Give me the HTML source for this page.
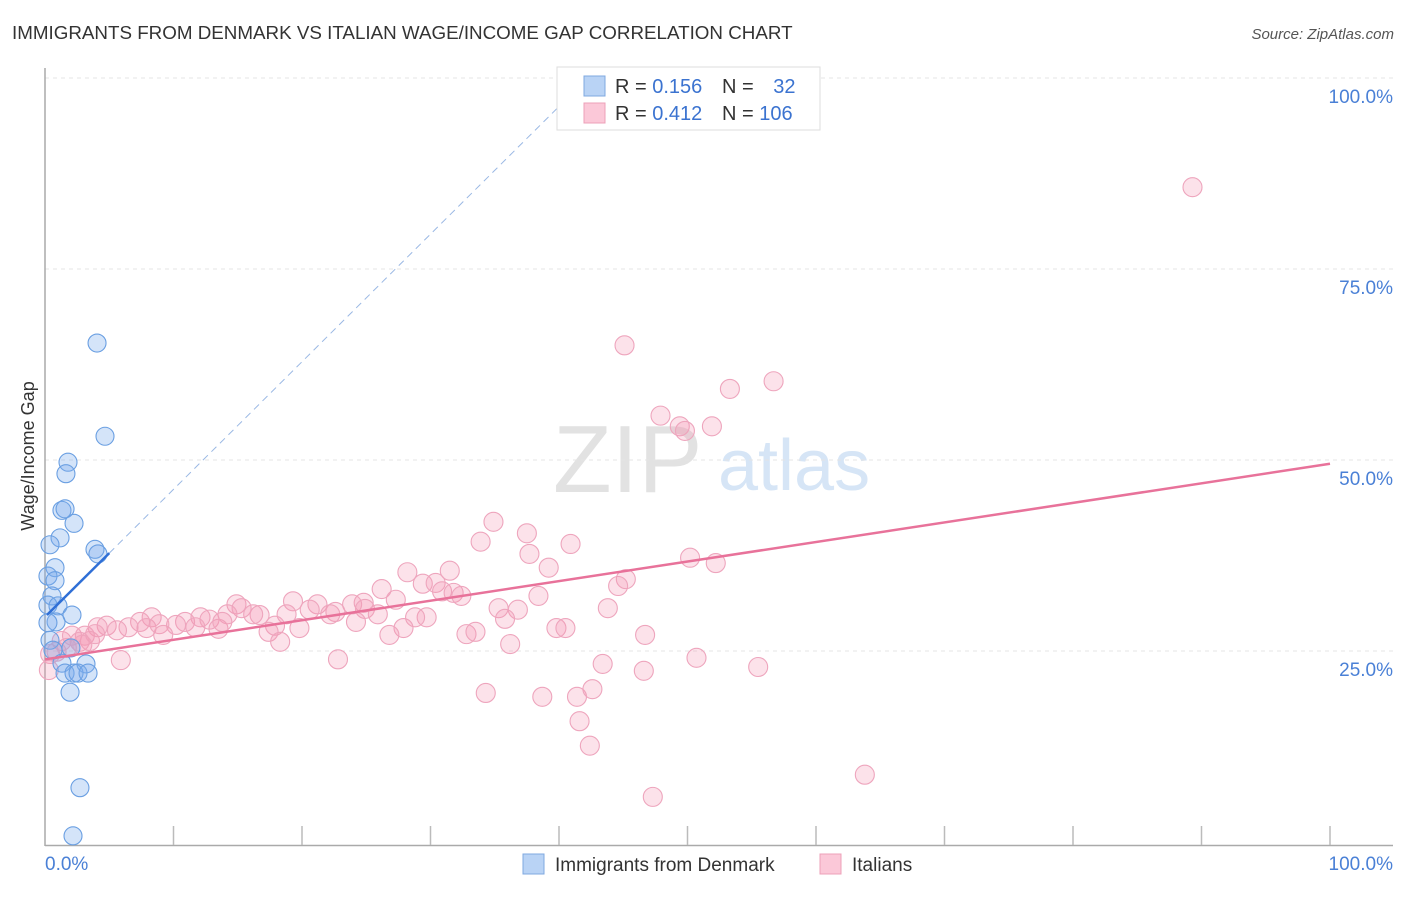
<!DOCTYPE html>
<html><head><meta charset="utf-8"><style>
body{margin:0;background:#fff;font-family:"Liberation Sans",sans-serif;}
svg text{font-family:"Liberation Sans",sans-serif;}
</style></head><body>
<svg id="chart" width="1406" height="892" xmlns="http://www.w3.org/2000/svg">
<text x="12" y="39" font-size="18.8" fill="#333">IMMIGRANTS FROM DENMARK VS ITALIAN WAGE/INCOME GAP CORRELATION CHART</text>
<text x="1394" y="39" font-size="15" fill="#555" text-anchor="end" font-style="italic">Source: ZipAtlas.com</text>
<g>
<text x="553" y="492" font-size="96" fill="#e2e2e2" font-family="Liberation Serif,serif">ZIP</text>
<text x="718" y="490" font-size="72" fill="#d6e5f6">atlas</text>
</g>
<g id="grid"></g>
<g id="axes"></g>
<g id="marks"></g>
<g>
<rect x="557" y="67" width="263" height="63" fill="#fff" stroke="#ddd"/>
<rect x="584" y="76" width="21" height="20" fill="#b9d3f5" stroke="#7fa8e0"/>
<rect x="584" y="103" width="21" height="20" fill="#fbc8d8" stroke="#eca0b8"/>
<text x="615" y="93" font-size="20" fill="#333">R = <tspan fill="#3b73d0">0.156</tspan></text>
<text x="722" y="93" font-size="20" fill="#333">N = <tspan fill="#3b73d0" dx="14">32</tspan></text>
<text x="615" y="120" font-size="20" fill="#333">R = <tspan fill="#3b73d0">0.412</tspan></text>
<text x="722" y="120" font-size="20" fill="#333">N = <tspan fill="#3b73d0">106</tspan></text>
</g>
<g>
<rect x="523" y="854" width="21" height="20" fill="#b9d3f5" stroke="#7fa8e0"/>
<text x="555" y="871" font-size="19" fill="#333">Immigrants from Denmark</text>
<rect x="820" y="854" width="21" height="20" fill="#fbc8d8" stroke="#eca0b8"/>
<text x="852" y="871" font-size="19" fill="#333">Italians</text>
</g>
<text transform="translate(34,456) rotate(-90)" font-size="18" fill="#333" text-anchor="middle">Wage/Income Gap</text>
</svg>
<script>
const yTicks=[25,50,75,100];
const yTickLabels=["25.0%","50.0%","75.0%","100.0%"];
const xTickLabels=["0.0%","100.0%"];
const denX=[4.05,4.67,1.79,1.63,1.32,1.56,2.26,1.17,0.39,3.89,4.12,0.78,0.23,0.78,0.54,0.23,1.01,2.1,0.86,0.39,2.02,0.62,1.32,3.19,1.56,2.26,2.57,3.35,1.95,2.72,2.18,0.23];
const denY=[65.7,53.5,50.1,48.6,43.8,44.0,42.1,40.2,39.3,38.7,38.1,36.3,35.2,34.6,32.6,31.4,31.3,30.1,29.2,26.8,25.8,25.5,23.8,23.7,22.5,22.5,22.5,22.5,20.0,7.5,1.2,29.1];
const itaX=[89.3,45.1,56.7,53.3,47.9,49.4,51.9,49.8,34.9,37.5,33.9,40.9,37.7,50.2,52.2,39.2,28.2,31.5,45.2,26.2,29.4,30.4,44.6,30.9,31.8,32.4,38.4,27.3,24.8,23.9,21.2,19.3,14.9,35.3,36.8,43.8,24.9,22.6,20.6,18.8,22.2,25.9,29.7,28.8,35.8,16.7,15.3,14.2,16.2,12.1,12.8,10.9,10.2,8.3,7.4,7.9,6.5,4.8,5.6,4.1,8.9,11.7,13.5,13.8,17.9,19.8,24.2,27.9,32.8,33.5,26.8,39.8,40.5,46.7,9.2,17.4,36.2,18.3,1.3,2.1,3.1,3.5,2.7,3.9,0.9,1.7,0.4,22.8,5.9,50.7,43.4,55.5,46.6,0.3,34.3,38.7,41.4,42.6,41.6,42.4,47.3,63.8,2.9];
const itaY=[86.1,65.4,60.7,59.7,56.2,54.8,54.8,54.2,42.3,40.8,39.7,39.4,38.1,37.6,36.9,36.3,35.7,35.9,34.8,33.5,34.2,34.3,33.9,33.2,33.0,32.6,32.6,32.1,31.7,31.5,31.5,31.9,31.5,31.0,30.8,31.0,30.9,30.5,30.8,30.2,30.2,30.2,29.8,29.8,29.6,30.1,31.0,30.2,30.2,29.8,29.5,29.2,28.8,29.8,29.2,28.4,28.5,28.7,28.1,28.5,28.9,28.5,28.3,29.2,28.7,28.4,29.2,28.4,27.6,27.9,27.5,28.4,28.4,27.5,27.5,27.9,26.3,26.6,26.7,27.4,27.4,26.7,26.6,27.6,25.3,25.8,25.0,24.3,24.2,24.5,23.7,23.3,22.8,22.9,19.9,19.4,19.4,20.4,16.2,13.0,6.3,9.2,26.2];
const denTrend=[[0.15,30.1],[5,38.2],[42,100]];
const itaTrend=[[0,24.3],[100,49.9]];
const NS="http://www.w3.org/2000/svg";
const X=v=>45+12.85*v, Y=v=>845-7.64*v;
function mk(p,tag,a){const e=document.createElementNS(NS,tag);for(const k in a)e.setAttribute(k,a[k]);p.appendChild(e);return e;}
const grid=document.getElementById('grid'),axes=document.getElementById('axes'),marks=document.getElementById('marks');
yTicks.forEach((t,i)=>{
 const l=mk(grid,'line',{x1:45,x2:1393,y1:Y(t)-3,y2:Y(t)-3,stroke:'#e4e4e4','stroke-width':1,'stroke-dasharray':'4,4'});
 
 
 const tx=mk(axes,'text',{x:1393,y:Y(t)+22,'font-size':19,fill:'#4a80d6','text-anchor':'end'});
 tx.textContent=yTickLabels[i];
 
 
});
let ax=mk(axes,'line',{x1:45,x2:45,y1:68,y2:846,stroke:'#aaa','stroke-width':1.5});


ax=mk(axes,'line',{x1:45,x2:1393,y1:845.5,y2:845.5,stroke:'#aaa','stroke-width':1.5});


for(let k=1;k<=10;k++){const t=mk(axes,'line',{x1:X(k*10),x2:X(k*10),y1:826,y2:845,stroke:'#bbb','stroke-width':1.5});
 
 }
let xl=mk(axes,'text',{x:45,y:870,'font-size':19,fill:'#4a80d6'});xl.textContent=xTickLabels[0];


xl=mk(axes,'text',{x:1393,y:870,'font-size':19,fill:'#4a80d6','text-anchor':'end'});xl.textContent=xTickLabels[1];


itaX.forEach((x,i)=>{const c=mk(marks,'circle',{cx:X(x),cy:Y(itaY[i]),r:9.5,fill:'rgba(244,150,180,0.28)',stroke:'#eea5bd','stroke-width':1.1});
 
 });
denX.forEach((x,i)=>{const c=mk(marks,'circle',{cx:X(x),cy:Y(denY[i]),r:9,fill:'rgba(120,170,235,0.32)',stroke:'#6a9fe2','stroke-width':1.1});
 
 });
let tl=mk(marks,'line',{x1:X(itaTrend[0][0]),y1:Y(itaTrend[0][1]),x2:X(itaTrend[1][0]),y2:Y(itaTrend[1][1]),stroke:'#e8729a','stroke-width':2.5});


tl=mk(marks,'line',{x1:X(denTrend[1][0]),y1:Y(denTrend[1][1]),x2:X(denTrend[2][0]),y2:Y(denTrend[2][1]),stroke:'#9ab8e4','stroke-width':1,'stroke-dasharray':'7,5'});


tl=mk(marks,'line',{x1:X(denTrend[0][0]),y1:Y(denTrend[0][1]),x2:X(denTrend[1][0]),y2:Y(denTrend[1][1]),stroke:'#2f6fd6','stroke-width':2.5});


</script>
</body></html>
